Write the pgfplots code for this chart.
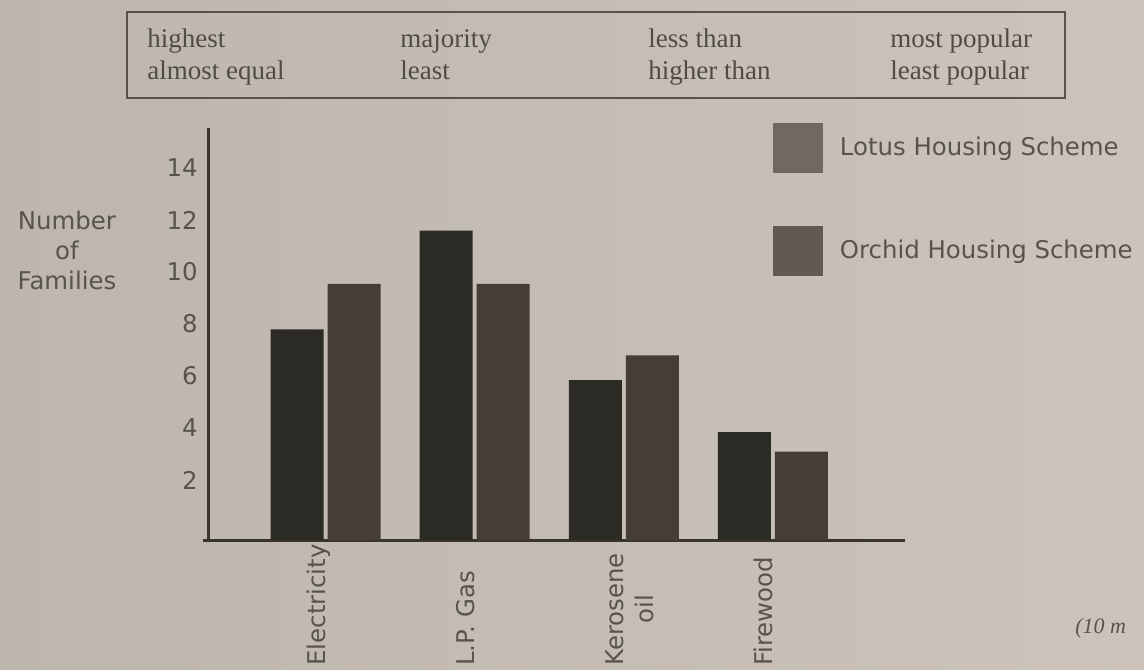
\documentclass[border=0pt]{standalone}
\usepackage{pgfplots}
\pgfplotsset{compat=1.18}
\usepackage{pgfplotstable}
\usepackage{fontspec}
\setmainfont{DejaVu Sans}
\newfontfamily\wordfont{Liberation Serif}
\definecolor{bgL}{HTML}{BDB6AE}
\definecolor{bgR}{HTML}{CCC4BB}
\definecolor{lotus}{HTML}{2C2A25}
\definecolor{orchid}{HTML}{443E37}
\definecolor{legLotus}{HTML}{6F6961}
\definecolor{legOrchid}{HTML}{615A52}
\definecolor{txt}{HTML}{59534D}
\definecolor{axc}{HTML}{3A342E}

\pgfplotstableread{
x lotus orchid
0 8.1  9.85
1 11.9 9.85
2 6.15 7.1
3 4.15 3.4
}\fueldata

\begin{document}
\begin{tikzpicture}
\useasboundingbox (0,0) rectangle (572pt,-334.5pt);
\shade[left color=bgL, right color=bgR] (0,0) rectangle (572pt,-334.5pt);
% word box
\draw[axc!85, line width=1.1pt] (63.5pt,-6pt) rectangle (532.5pt,-49pt);
\begin{scope}[every node/.style={anchor=base west, inner sep=0pt, text=txt!90!black, font=\wordfont\fontsize{13.5}{15}\selectfont}]
\node at (73.5pt,-23.5pt) {highest};
\node at (73.5pt,-39.5pt) {almost equal};
\node at (200pt,-23.5pt) {majority};
\node at (200pt,-39.5pt) {least};
\node at (324pt,-23.5pt) {less than};
\node at (324pt,-39.5pt) {higher than};
\node at (445pt,-23.5pt) {most popular};
\node at (445pt,-39.5pt) {least popular};
\end{scope}
\node[anchor=west, inner sep=0pt, text=txt, font=\wordfont\itshape\fontsize{11}{13}\selectfont] at (537.5pt,-314pt) {(10 m};

\begin{axis}[
  at={(104pt,-270pt)}, anchor=south west,
  scale only axis, width=348.5pt, height=206pt,
  xmin=-0.789, xmax=3.886, ymin=0, ymax=15.846,
  axis x line*=bottom, axis y line*=left,
  axis line style={axc, line width=1.5pt, -},
  x axis line style={shorten <=-2.5pt},
  major tick length=0pt,
  ytick={2,4,...,14},
  xtick={0,1,2,3},
  xticklabels={Electricity, L.P. Gas, {\begin{tabular}[t]{@{}c@{}}Kerosene\\oil\end{tabular}}, Firewood},
  /pgf/number format/assume math mode=true,
  tick label style={text=txt},
  yticklabel style={font=\fontsize{12.2}{14}\selectfont, inner sep=0pt, xshift=-5pt, yshift=4pt},
  xticklabel style={font=\fontsize{12.2}{15}\selectfont, rotate=90, anchor=base west, inner sep=0pt},
  xticklabel shift=63pt,
  ylabel={Number\\of\\Families},
  ylabel style={rotate=-90, align=center, at={(axis description cs:-0.2023,0.704)}, anchor=center, font=\fontsize{12.2}{15}\selectfont, text=txt},
  legend image code/.code={\fill[#1] (0pt,-12.5pt) rectangle (25pt,12.5pt);},
  legend cell align=left,
  legend style={draw=none, fill=none, at={(0.8106,1.012)}, anchor=north west, inner sep=0pt, outer sep=0pt, row sep=26.25pt, column sep=8.5pt, font=\fontsize{12.2}{14}\selectfont, text=txt, nodes={inner sep=0pt}},
  clip=false,
]
\addplot[ybar, bar width=26.5pt, bar shift=-14.25pt, fill=lotus, draw=none, forget plot] table[x=x, y=lotus] {\fueldata};
\addplot[ybar, bar width=26.5pt, bar shift=14.25pt, fill=orchid, draw=none, forget plot] table[x=x, y=orchid] {\fueldata};
\addlegendimage{fill=legLotus, draw=none}
\addlegendentry{Lotus Housing Scheme}
\addlegendimage{fill=legOrchid, draw=none}
\addlegendentry{Orchid Housing Scheme}
\end{axis}
\end{tikzpicture}
\end{document}
